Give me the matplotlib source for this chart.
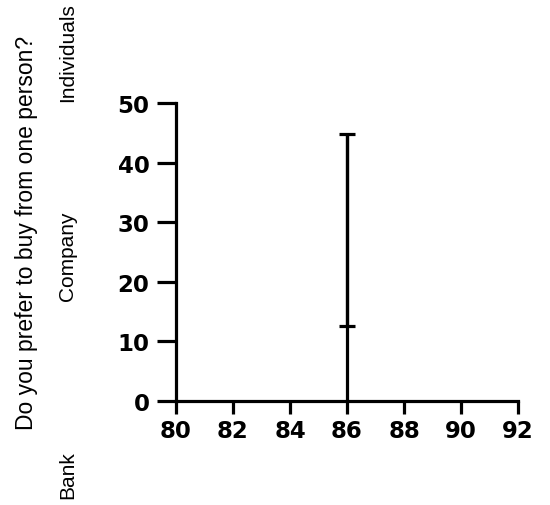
import matplotlib.pyplot as plt

# values
x_pos = [86]
low = [12.6]
high = [44.8]
side_labels = ["Individuals", "Company", "Bank"]
side_y = [53, 256, 475]  # pixel centres
question = "Do you prefer to buy from one person?"
x_ticks = [80, 82, 84, 86, 88, 90, 92]
y_ticks = [0, 10, 20, 30, 40, 50]

narrow = ["Liberation Sans Narrow", "Liberation Sans", "DejaVu Sans"]

fig = plt.figure(figsize=(5.5, 5.06), dpi=100)
ax = fig.add_axes([176 / 550, 1 - 402 / 506, (518 - 176) / 550, (402 - 104) / 506])

# stem from the axis up to the top cap, caps at both ends of the range
ax.vlines(x_pos, 0, high, color="black", lw=2.3)
mid = [(a + b) / 2 for a, b in zip(low, high)]
err = [(b - a) / 2 for a, b in zip(low, high)]
ax.errorbar(x_pos, mid, yerr=err, fmt="none", ecolor="black",
            elinewidth=2.3, capsize=6, capthick=2.3)

ax.set_xlim(80, 92)
ax.set_ylim(0, 50)
ax.set_xticks(x_ticks)
ax.set_yticks(y_ticks)
for s in ["top", "right"]:
    ax.spines[s].set_visible(False)
for s in ["left", "bottom"]:
    ax.spines[s].set_linewidth(2.3)
ax.tick_params(axis="y", length=14, width=2.3, pad=5)
ax.tick_params(axis="x", length=9, width=2.3, pad=4)
for lab in ax.get_xticklabels() + ax.get_yticklabels():
    lab.set_fontweight("bold")
    lab.set_fontsize(16.5)
    lab.set_family("DejaVu Sans")

fig.text(27 / 550, 1 - 233 / 506, question, rotation=90, ha="center",
         va="center", fontsize=16.5, family=narrow)
for lab, yy in zip(side_labels, side_y):
    fig.text(68 / 550, 1 - yy / 506, lab, rotation=90, ha="center",
             va="center", fontsize=15, family=narrow)

fig.savefig("out.png", dpi=100)
